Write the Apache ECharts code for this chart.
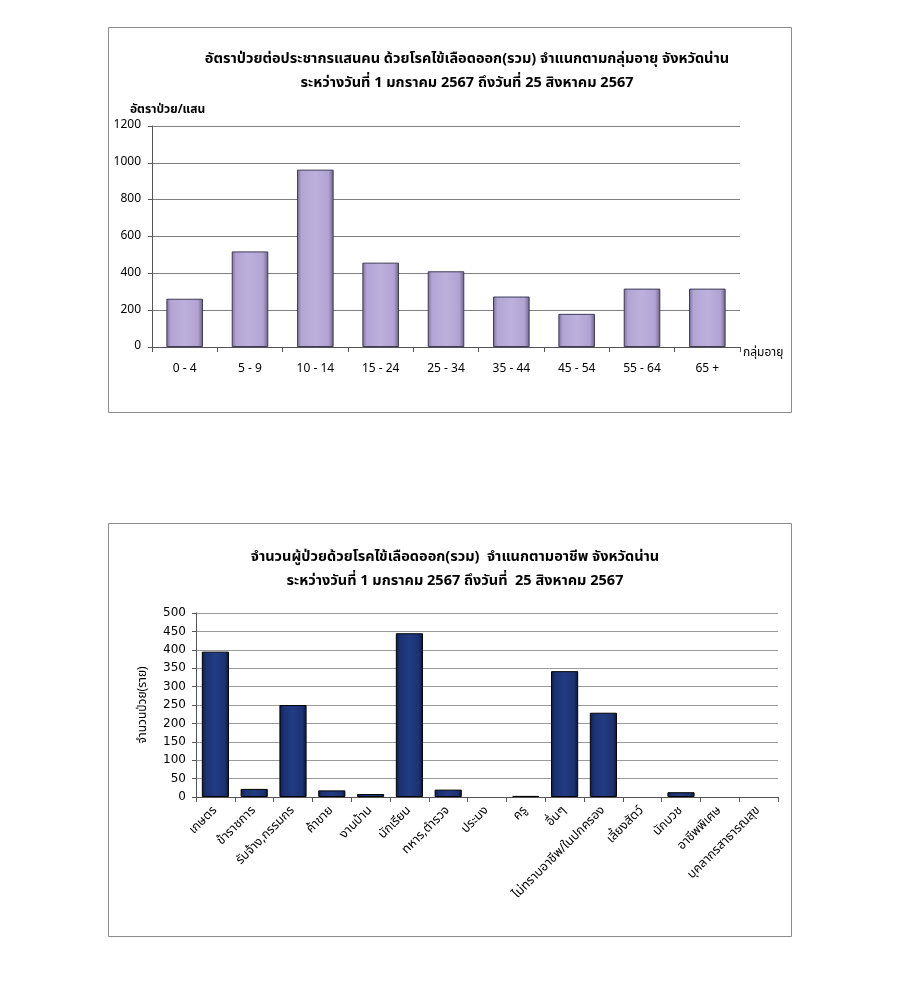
<!DOCTYPE html>
<html>
<head>
<meta charset="utf-8">
<script src="https://cdn.jsdelivr.net/npm/echarts@6/dist/echarts.min.js"></script>
<style>
html,body{margin:0;padding:0;background:#fff;}
#c{width:900px;height:1001px;}
</style>
</head>
<body>
<div id="c"></div>
<script>
// ---- Data ----
const ageGroups = ['0 - 4','5 - 9','10 - 14','15 - 24','25 - 34','35 - 44','45 - 54','55 - 64','65 +'];
const ageRates = [262, 519, 963, 458, 411, 274, 180, 317, 317];
const rateTicks = [0, 200, 400, 600, 800, 1000, 1200];

const occupations = ['เกษตร','ข้าราชการ','รับจ้าง,กรรมกร','ค้าขาย','งานบ้าน','นักเรียน','ทหาร,ตำรวจ','ประมง','ครู','อื่นๆ','ไม่ทราบอาชีพ/ในปกครอง','เลี้ยงสัตว์','นักบวช','อาชีพพิเศษ','บุคลากรสาธารณสุข'];
const occCounts = [395, 22, 250, 18, 8, 445, 20, 0, 3, 342, 229, 0, 13, 0, 0];
const countTicks = [0, 50, 100, 150, 200, 250, 300, 350, 400, 450, 500];

const title1 = 'อัตราป่วยต่อประชากรแสนคน ด้วยโรคไข้เลือดออก(รวม) จำแนกตามกลุ่มอายุ จังหวัดน่าน\nระหว่างวันที่ 1 มกราคม 2567 ถึงวันที่ 25 สิงหาคม 2567';
const title2 = 'จำนวนผู้ป่วยด้วยโรคไข้เลือดออก(รวม)  จำแนกตามอาชีพ จังหวัดน่าน\nระหว่างวันที่ 1 มกราคม 2567 ถึงวันที่  25 สิงหาคม 2567';

const FONT = 'Tahoma, "Noto Sans Thai", "Noto Sans", "DejaVu Sans", sans-serif';

const chart = echarts.init(document.getElementById('c'));
const purple = {
  type:'linear', x:0, y:0, x2:1, y2:0,
  colorStops:[
    {offset:0, color:'#7a6f98'},
    {offset:0.12, color:'#b2a5d4'},
    {offset:0.5, color:'#bcb0dc'},
    {offset:0.86, color:'#b0a3d2'},
    {offset:1, color:'#6c6288'}
  ]
};
const navy = {
  type:'linear', x:0, y:0, x2:1, y2:0,
  colorStops:[
    {offset:0, color:'#0c1a45'},
    {offset:0.15, color:'#1b3272'},
    {offset:0.5, color:'#223c82'},
    {offset:0.85, color:'#1b3272'},
    {offset:1, color:'#0a163c'}
  ]
};

chart.setOption({
  animation:false,
  backgroundColor:'#fff',
  graphic:[
    {type:'rect', shape:{x:108.5, y:27.5, width:683, height:385}, style:{fill:'none', stroke:'#8c8c8c', lineWidth:1}, silent:true},
    {type:'rect', shape:{x:108.5, y:523.5, width:683, height:413}, style:{fill:'none', stroke:'#8c8c8c', lineWidth:1}, silent:true}
  ],
  title:[
    {text:title1, left:462, top:43, textAlign:'center',
     textStyle:{fontFamily:FONT, fontSize:14.5, fontWeight:'bold', color:'#000', lineHeight:24}},
    {text:title2, left:450, top:541, textAlign:'center',
     textStyle:{fontFamily:FONT, fontSize:14.5, fontWeight:'bold', color:'#000', lineHeight:24}}
  ],
  grid:[
    {left:152, right:160, top:126, height:221},
    {left:196, right:122, top:613, height:184}
  ],
  xAxis:[
    {type:'category', gridIndex:0, data:ageGroups,
     name:'กลุ่มอายุ', nameLocation:'end', nameGap:3,
     nameTextStyle:{fontFamily:FONT, fontSize:12, color:'#000', verticalAlign:'top', padding:[1,0,0,0]},
     axisLine:{lineStyle:{color:'#555', width:1}},
     axisTick:{show:true, length:5, lineStyle:{color:'#555'}},
     axisLabel:{fontFamily:FONT, fontSize:12, color:'#000', margin:17}},
    {type:'category', gridIndex:1, data:occupations,
     axisLine:{lineStyle:{color:'#555', width:1}},
     axisTick:{show:true, length:5, lineStyle:{color:'#555'}},
     axisLabel:{fontFamily:FONT, fontSize:12.5, color:'#000', rotate:45, interval:0, margin:12}}
  ],
  yAxis:[
    {type:'value', gridIndex:0, min:0, max:1200, interval:200,
     name:'อัตราป่วย/แสน', nameLocation:'end', nameGap:9,
     nameTextStyle:{fontFamily:FONT, fontSize:12, fontWeight:'bold', color:'#000', align:'left', padding:[0,0,0,-22]},
     axisLine:{show:true, lineStyle:{color:'#555'}},
     axisTick:{show:true, length:4, lineStyle:{color:'#555'}},
     splitLine:{lineStyle:{color:'#7f7f7f', width:1}},
     axisLabel:{fontFamily:FONT, fontSize:12, color:'#000', margin:11,
       formatter:v => rateTicks.includes(v) ? String(v) : ''}},
    {type:'value', gridIndex:1, min:0, max:500, interval:50,
     name:'จำนวนป่วย(ราย)', nameLocation:'middle', nameGap:46, nameRotate:90,
     nameTextStyle:{fontFamily:FONT, fontSize:12, color:'#000'},
     axisLine:{show:true, lineStyle:{color:'#555'}},
     axisTick:{show:true, length:4, lineStyle:{color:'#555'}},
     splitLine:{lineStyle:{color:'#9a9a9a', width:1}},
     axisLabel:{fontFamily:'Verdana, "DejaVu Sans", sans-serif', fontSize:12, color:'#000', margin:10,
       formatter:v => countTicks.includes(v) ? String(v) : ''}}
  ],
  series:[
    {type:'bar', xAxisIndex:0, yAxisIndex:0, data:ageRates, barWidth:'56%',
     itemStyle:{color:purple, borderColor:'#3f3a55', borderWidth:1}},
    {type:'bar', xAxisIndex:1, yAxisIndex:1, data:occCounts.map(v => v === 0 ? null : v), barWidth:'70%',
     itemStyle:{color:navy, borderColor:'#000', borderWidth:1}}
  ]
});
</script>
</body>
</html>
